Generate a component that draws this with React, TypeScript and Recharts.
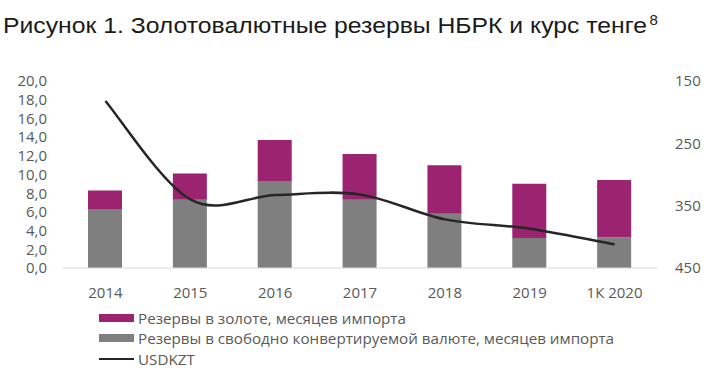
import React from "react";
import { ComposedChart, Bar, Line, XAxis, YAxis } from "recharts";

const categories = ["2014", "2015", "2016", "2017", "2018", "2019", "1К 2020"];
const goldMonths = [2.0, 2.8, 4.4, 4.9, 5.2, 5.8, 6.1];
const fxMonths = [6.3, 7.3, 9.3, 7.3, 5.8, 3.2, 3.3];
const usdKzt = [182, 340, 333, 332, 372, 387, 412];
const leftTicks = [0, 2, 4, 6, 8, 10, 12, 14, 16, 18, 20];
const rightTicks = [150, 250, 350, 450];

const data = categories.map((name, i) => ({
  name,
  gold: goldMonths[i],
  fx: fxMonths[i],
  usd: usdKzt[i],
}));

const PURPLE = "#9b2370";
const GRAY = "#7f7f7f";
const LINE = "#262626";
const TEXT = "#595959";
const FONT = "'Open Sans', sans-serif";

const legendItems = [
  { label: "Резервы в золоте, месяцев импорта", color: PURPLE, kind: "box" },
  { label: "Резервы в свободно конвертируемой валюте, месяцев импорта", color: GRAY, kind: "box" },
  { label: "USDKZT", color: LINE, kind: "line" },
];

// excel-like smoothed line (catmull-rom through the points)
function excelSmooth(context: any) {
  let pts: [number, number][] = [];
  return {
    areaStart() {},
    areaEnd() {},
    lineStart() {
      pts = [];
    },
    point(x: number, y: number) {
      pts.push([+x, +y]);
    },
    lineEnd() {
      if (!pts.length) return;
      context.moveTo(pts[0][0], pts[0][1]);
      for (let i = 0; i < pts.length - 1; i++) {
        const p0 = pts[Math.max(i - 1, 0)];
        const p1 = pts[i];
        const p2 = pts[i + 1];
        const p3 = pts[Math.min(i + 2, pts.length - 1)];
        context.bezierCurveTo(
          p1[0] + (p2[0] - p0[0]) / 6,
          p1[1] + (p2[1] - p0[1]) / 6,
          p2[0] - (p3[0] - p1[0]) / 6,
          p2[1] - (p3[1] - p1[1]) / 6,
          p2[0],
          p2[1]
        );
      }
    },
  };
}

function LegendBox() {
  return (
    <div style={{ position: "absolute", left: 99, top: 308, fontFamily: FONT, fontSize: 15.2, color: TEXT }}>
      {legendItems.map((it) => (
        <div key={it.label} style={{ display: "flex", alignItems: "center", height: 20.3 }}>
          <span
            style={{
              display: "inline-block",
              width: 35,
              height: it.kind === "box" ? 8 : 2,
              background: it.color,
              marginRight: 4,
            }}
          />
          <span style={{ whiteSpace: "nowrap" }}>{it.label}</span>
        </div>
      ))}
    </div>
  );
}

export default function App() {
  return (
    <div style={{ position: "absolute", left: 0, top: 0, width: 719, height: 389, background: "#fff" }}>
      <svg width={719} height={50} style={{ position: "absolute", left: 0, top: 0 }}>
        <text
          x={3}
          y={33.3}
          fontFamily="'Liberation Sans', Arial, sans-serif"
          fontSize={21.5}
          fill="#1a1a1a"
          textLength={644}
          lengthAdjust="spacingAndGlyphs"
        >
          Рисунок 1. Золотовалютные резервы НБРК и курс тенге
        </text>
        <text x={649.5} y={25} fontFamily="'Liberation Sans', Arial, sans-serif" fontSize={15} fill="#1a1a1a">
          8
        </text>
      </svg>
      <ComposedChart
        width={719}
        height={389}
        data={data}
        margin={{ top: 81, right: 0, left: 0, bottom: 91 }}
        style={{ position: "absolute", left: 0, top: 0 }}
      >
        <XAxis
          dataKey="name"
          height={30}
          tickLine={false}
          tickSize={0}
          tickMargin={19}
          axisLine={{ stroke: "#d9d9d9" }}
          tick={{ fill: TEXT, fontSize: 15, fontFamily: FONT }}
        />
        <YAxis
          yAxisId="left"
          width={63}
          domain={[0, 20]}
          ticks={leftTicks}
          interval={0}
          tickLine={false}
          tickSize={0}
          tickMargin={16}
          axisLine={false}
          tickFormatter={(v) => Number(v).toFixed(1).replace(".", ",")}
          tick={{ fill: TEXT, fontSize: 15, fontFamily: FONT }}
        />
        <YAxis
          yAxisId="right"
          orientation="right"
          width={62}
          domain={[150, 450]}
          reversed
          ticks={rightTicks}
          interval={0}
          tickLine={false}
          tickSize={0}
          tickMargin={18}
          axisLine={false}
          tick={{ fill: TEXT, fontSize: 15, fontFamily: FONT, textAnchor: "start" }}
        />
        <Bar yAxisId="left" dataKey="fx" stackId="a" fill={GRAY} barSize={34} isAnimationActive={false} />
        <Bar yAxisId="left" dataKey="gold" stackId="a" fill={PURPLE} barSize={34} isAnimationActive={false} />
        <Line
          yAxisId="right"
          dataKey="usd"
          type={excelSmooth as any}
          stroke={LINE}
          strokeWidth={2.5}
          dot={false}
          isAnimationActive={false}
        />
      </ComposedChart>
      <LegendBox />
    </div>
  );
}
